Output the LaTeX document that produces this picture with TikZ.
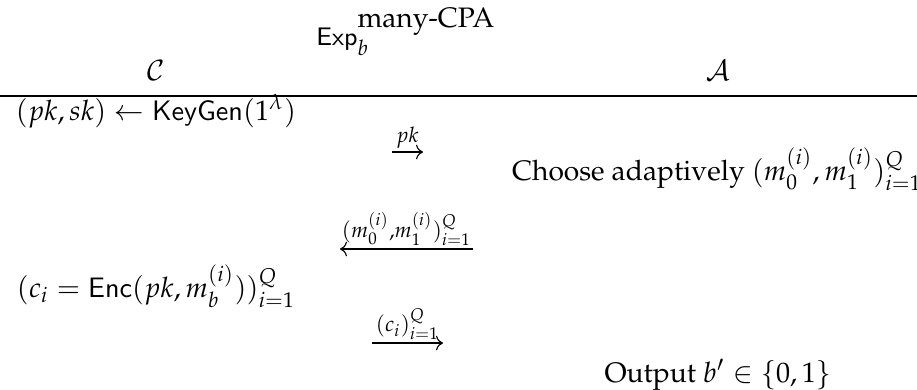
\documentclass[tikz,border=0pt]{standalone}
\usepackage[OT1]{fontenc}
\usepackage{mathpazo}
\usepackage{amsmath,amssymb}
\usetikzlibrary{arrows.meta}

\begin{document}
\begin{tikzpicture}[
    x=0.355pt, y=-0.355pt,
    party/.style={anchor=base, inner sep=0pt},
    msg/.style={-{Computer Modern Rightarrow}, line width=0.4pt},
    msglabel/.style={above, inner sep=1pt}
]
\useasboundingbox (0,0) rectangle (917,389);

% Game title (middle column)
\node[party] (title) at (406,45) {$\mbox{\small$\mathsf{Exp}$}_b^{\mbox{many-CPA}}$};

% Parties and header rule
\node[party] (chal) at (156,80) {$\mathcal{C}$};
\node[party] (adv)  at (718,80) {$\mathcal{A}$};
\draw[line width=0.6pt] (0,96) -- (917,96);

% Challenger column
\node[party] (keygen) at (156,120) {$(pk,sk) \leftarrow \mathsf{KeyGen}(1^\lambda)$};
\node[party] (enc)    at (156,297) {$(c_i = \mathsf{Enc}(pk,m_b^{(i)}))_{i=1}^Q$};

% Adversary column
\node[party] (choose) at (717,180) {Choose adaptively $(m_0^{(i)},m_1^{(i)})_{i=1}^Q$};
\node[party] (output) at (718,382) {Output $b' \in \{0,1\}$};

% Messages
\coordinate (pkL) at (392,152);  \coordinate (pkR) at (423,152);
\coordinate (mR)  at (473,249);  \coordinate (mL)  at (340,249);
\coordinate (cL)  at (372,343);  \coordinate (cR)  at (443,343);

\draw[msg] (pkL) -- node[msglabel] {$\scriptstyle pk$} (pkR);
\draw[msg] (mR) -- node[msglabel] {$\scriptstyle (m_0^{(i)},m_1^{(i)})_{i=1}^Q$} (mL);
\draw[msg] (cL) -- node[msglabel] {$\scriptstyle (c_i)_{i=1}^Q$} (cR);

\end{tikzpicture}
\end{document}
